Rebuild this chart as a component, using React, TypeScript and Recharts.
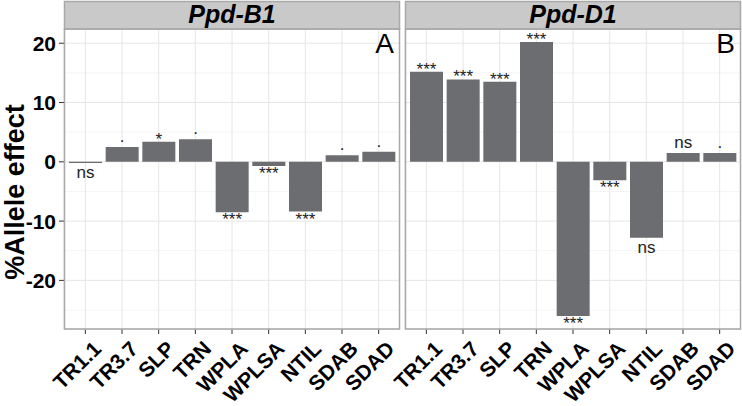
import { BarChart, Bar, XAxis, YAxis, CartesianGrid, LabelList } from "recharts";

const categories = ["TR1.1", "TR3.7", "SLP", "TRN", "WPLA", "WPLSA", "NTIL", "SDAB", "SDAD"];

const ppdB1Effect = [-0.2, 2.5, 3.4, 3.8, -8.5, -0.7, -8.4, 1.1, 1.7];
const ppdB1Signif = ["ns", ".", "*", ".", "***", "***", "***", ".", "."];

const ppdD1Effect = [15.2, 13.9, 13.5, 20.2, -26.0, -3.1, -12.8, 1.5, 1.5];
const ppdD1Signif = ["***", "***", "***", "***", "***", "***", "ns", "ns", "."];

const panelTitles = ["Ppd-B1", "Ppd-D1"];
const panelTags = ["A", "B"];

const yTicks = [-20, -10, 0, 10, 20];
const yMinorTicks = [-25, -15, -5, 5, 15];
const yDomain = [-28.2, 22.4];

const FONT = "'Liberation Sans', Arial, Helvetica, sans-serif";
const PLOT_TOP = 29;
const PLOT_BOTTOM = 329;
const PLOT_W = 336;
const Y_AXIS_W = 64;
const PANEL_B_LEFT = 405;
const SPILL = 40; // room at the left of panel B for the slanted labels

const toRows = (values: number[], signif: string[]) =>
  categories.map((cat, i) => ({ cat, value: values[i], sig: signif[i] }));

const dataB1 = toRows(ppdB1Effect, ppdB1Signif);
const dataD1 = toRows(ppdD1Effect, ppdD1Signif);

// significance text sits above positive bars and below negative ones
const SigLabel = (props: any) => {
  const vb = props.viewBox || props;
  const [sig, dir] = String(props.value).split("|");
  const top = Math.min(vb.y, vb.y + vb.height);
  const bottom = Math.max(vb.y, vb.y + vb.height);
  const star = sig.includes("*");
  const y = dir === "up" ? top + (star ? 3 : -5) : bottom + (star ? 13 : 15);
  return (
    <text x={vb.x + vb.width / 2} y={y} textAnchor="middle" fontSize={17} fill="#222" fontFamily={FONT}>
      {sig}
    </text>
  );
};

const AngledTick = (props: any) => {
  const { x, y, payload } = props;
  return (
    <text
      transform={`translate(${x + 6},${y + 3}) rotate(-45)`}
      textAnchor="end"
      dy="0.75em"
      fontSize={21}
      fontWeight="bold"
      fill="#000"
      fontFamily={FONT}
    >
      {payload.value}
    </text>
  );
};

function Panel({ data, showY, leftPad = 0 }: { data: any[]; showY?: boolean; leftPad?: number }) {
  return (
    <BarChart
      width={PLOT_W + (showY ? Y_AXIS_W : 0) + leftPad}
      height={406}
      data={data}
      margin={{ top: PLOT_TOP, right: 0, bottom: 0, left: leftPad }}
      barSize={33}
    >
      <CartesianGrid yAxisId="minor" stroke="#f4f4f4" vertical={false} />
      <CartesianGrid stroke="#e6e6e6" />
      <XAxis
        dataKey="cat"
        interval={0}
        padding={{ left: 3, right: 3 }}
        axisLine={false}
        tickLine={{ stroke: "#333" }}
        tickSize={5}
        height={406 - PLOT_BOTTOM}
        tick={<AngledTick />}
      />
      <YAxis
        type="number"
        domain={yDomain}
        ticks={yTicks}
        allowDataOverflow
        hide={!showY}
        width={Y_AXIS_W}
        axisLine={false}
        tickLine={{ stroke: "#333" }}
        tickSize={5}
        tickMargin={3}
        tick={{ fontSize: 21, fontWeight: "bold", fill: "#000", fontFamily: FONT }}
      />
      <YAxis yAxisId="minor" type="number" domain={yDomain} ticks={yMinorTicks} allowDataOverflow hide />
      <Bar dataKey="value" fill="#6c6d71" isAnimationActive={false}>
        <LabelList
          dataKey={(d: any) => `${d.sig}|${d.value >= 0 ? "up" : "down"}`}
          content={<SigLabel />}
        />
      </Bar>
    </BarChart>
  );
}

export default function App() {
  const lefts = [Y_AXIS_W, PANEL_B_LEFT];
  return (
    <div style={{ position: "absolute", left: 0, top: 0, width: 742, height: 406, background: "#fff", overflow: "hidden" }}>
      <div style={{ position: "absolute", left: 0, top: 0 }}>
        <Panel data={dataB1} showY />
      </div>
      <div style={{ position: "absolute", left: PANEL_B_LEFT - SPILL, top: 0 }}>
        <Panel data={dataD1} leftPad={SPILL} />
      </div>
      <svg
        width={742}
        height={406}
        style={{ position: "absolute", left: 0, top: 0, pointerEvents: "none" }}
        fontFamily={FONT}
      >
        {lefts.map((x, i) => (
          <g key={i}>
            <rect x={x + 0.5} y={1.5} width={PLOT_W - 1} height={PLOT_TOP - 1.5} fill="#c9c9c9" stroke="#a9a9a9" strokeWidth={1.5} />
            <rect x={x + 0.5} y={PLOT_TOP} width={PLOT_W - 1} height={PLOT_BOTTOM - PLOT_TOP} fill="none" stroke="#a9a9a9" strokeWidth={1.5} />
            <text x={x + PLOT_W / 2} y={22.5} textAnchor="middle" fontSize={25} fontWeight="bold" fontStyle="italic" fill="#000">
              {panelTitles[i]}
            </text>
            <text x={x + PLOT_W - 6} y={53} textAnchor="end" fontSize={28} fill="#000">
              {panelTags[i]}
            </text>
          </g>
        ))}
        <text transform="translate(24,192) rotate(-90)" textAnchor="middle" fontSize={27} fontWeight="bold" fill="#000">
          %Allele effect
        </text>
      </svg>
    </div>
  );
}
